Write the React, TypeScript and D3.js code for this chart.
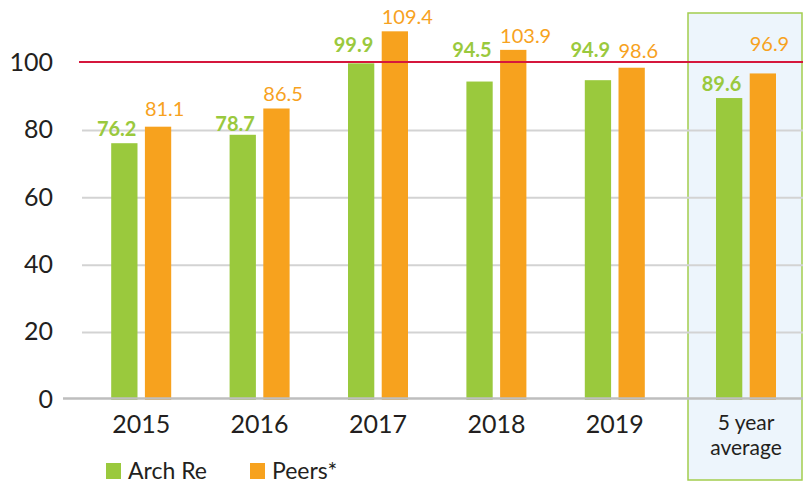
import React, { useEffect, useRef } from "react";
import * as d3 from "d3";

const years = ["2015", "2016", "2017", "2018", "2019"];
const avgLabel = ["5 year", "average"];
const archRe = [76.2, 78.7, 99.9, 94.5, 94.9];
const peers = [81.1, 86.5, 109.4, 103.9, 98.6];
const archReAvg = 89.6;
const peersAvg = 96.9;
const yTicks = [0, 20, 40, 60, 80, 100];
const seriesNames = ["Arch Re", "Peers*"];

const GREEN = "#9AC93D";
const ORANGE = "#F7A21E";
const RED = "#D5173C";
const FONT = "Lato, 'Open Sans', sans-serif";

const App = () => {
    const svgRef = useRef<SVGSVGElement>(null);

    useEffect(() => {
        const w = 803;
        const h = 484;

        const svg = d3.select(svgRef.current);
        svg.selectAll("*").remove();
        svg.attr("width", w).attr("height", h);

        // scales
        const y = d3.scaleLinear().domain([0, 100]).range([400, 63]);
        const x = d3.scaleBand().domain(years).range([82, 674]);

        // highlight box for the 5 year average
        const boxLeft = 688;
        const boxRight = w - 1;
        svg.append("rect")
            .attr("x", boxLeft)
            .attr("y", 13)
            .attr("width", boxRight - boxLeft)
            .attr("height", 467)
            .attr("fill", "#EDF5FC")
            .attr("stroke", "#A3CD4E")
            .attr("stroke-width", 1.5);

        // grid lines
        svg.selectAll(".grid")
            .data(yTicks.filter(t => t > 0 && t < 100))
            .join("line")
            .attr("x1", 82)
            .attr("x2", w)
            .attr("y1", d => y(d))
            .attr("y2", d => y(d))
            .attr("stroke", "#D3D3D3")
            .attr("stroke-width", 2);

        // y tick labels
        svg.selectAll(".ytick")
            .data(yTicks)
            .join("text")
            .attr("x", 53)
            .attr("y", d => y(d) - 1)
            .attr("dy", "0.35em")
            .attr("text-anchor", "end")
            .attr("font-family", FONT)
            .attr("font-size", 25)
            .attr("fill", "#231F20")
            .text(d => d);

        // groups: years plus the average
        const groups = years.map((yr, i) => ({
            key: yr,
            center: (x(yr) as number) + x.bandwidth() / 2,
            values: [archRe[i], peers[i]],
        }));
        groups.push({
            key: "avg",
            center: (boxLeft + boxRight) / 2 + 1,
            values: [archReAvg, peersAvg],
        });

        const inner = d3.scaleBand().domain(seriesNames).range([-30, 30]).paddingInner(0.22);
        const colors = [GREEN, ORANGE];

        // extra lift for a few value labels (as placed in the original)
        const lift = [
            [0, 4],
            [-3, 0],
            [4, 0],
            [18, 0],
            [16, 3],
            [0, 15],
        ];

        groups.forEach((g, gi) => {
            g.values.forEach((v, si) => {
                const bx = g.center + (inner(seriesNames[si]) as number);
                svg.append("rect")
                    .attr("x", bx)
                    .attr("y", y(v))
                    .attr("width", inner.bandwidth())
                    .attr("height", y(0) - y(v))
                    .attr("fill", colors[si]);

                svg.append("text")
                    .attr("x", si === 0 ? bx + inner.bandwidth() - 1 : bx)
                    .attr("y", y(v) - 7 - lift[gi][si])
                    .attr("text-anchor", si === 0 ? "end" : "start")
                    .attr("font-family", FONT)
                    .attr("font-size", 20)
                    .attr("font-weight", si === 0 ? 700 : 400)
                    .attr("fill", colors[si])
                    .text(d3.format(".1f")(v));
            });
        });

        // axis line at zero
        svg.append("line")
            .attr("x1", 63)
            .attr("x2", w)
            .attr("y1", y(0) - 1.5)
            .attr("y2", y(0) - 1.5)
            .attr("stroke", "#BEBEBE")
            .attr("stroke-width", 2.5);

        // red 100 line
        svg.append("line")
            .attr("x1", 79)
            .attr("x2", w)
            .attr("y1", y(100) - 1)
            .attr("y2", y(100) - 1)
            .attr("stroke", RED)
            .attr("stroke-width", 2);

        // category labels
        groups.slice(0, 5).forEach(g => {
            svg.append("text")
                .attr("x", g.center)
                .attr("y", 433)
                .attr("text-anchor", "middle")
                .attr("font-family", FONT)
                .attr("font-size", 25)
                .attr("fill", "#231F20")
                .text(g.key);
        });
        avgLabel.forEach((t, i) => {
            svg.append("text")
                .attr("x", groups[5].center)
                .attr("y", 430 + i * 25)
                .attr("text-anchor", "middle")
                .attr("font-family", FONT)
                .attr("font-size", 21)
                .attr("fill", "#231F20")
                .text(t);
        });

        // legend
        const legendX = [106, 250];
        seriesNames.forEach((name, i) => {
            svg.append("rect")
                .attr("x", legendX[i])
                .attr("y", 463)
                .attr("width", 15)
                .attr("height", 16)
                .attr("fill", colors[i]);
            svg.append("text")
                .attr("x", legendX[i] + 22)
                .attr("y", 479)
                .attr("font-family", FONT)
                .attr("font-size", 23)
                .attr("fill", "#231F20")
                .text(name);
        });
    }, []);

    return (
        <div style={{ position: "absolute", left: 0, top: 0 }}>
            <svg ref={svgRef} style={{ display: "block", background: "white" }}></svg>
        </div>
    );
};

export default App;
